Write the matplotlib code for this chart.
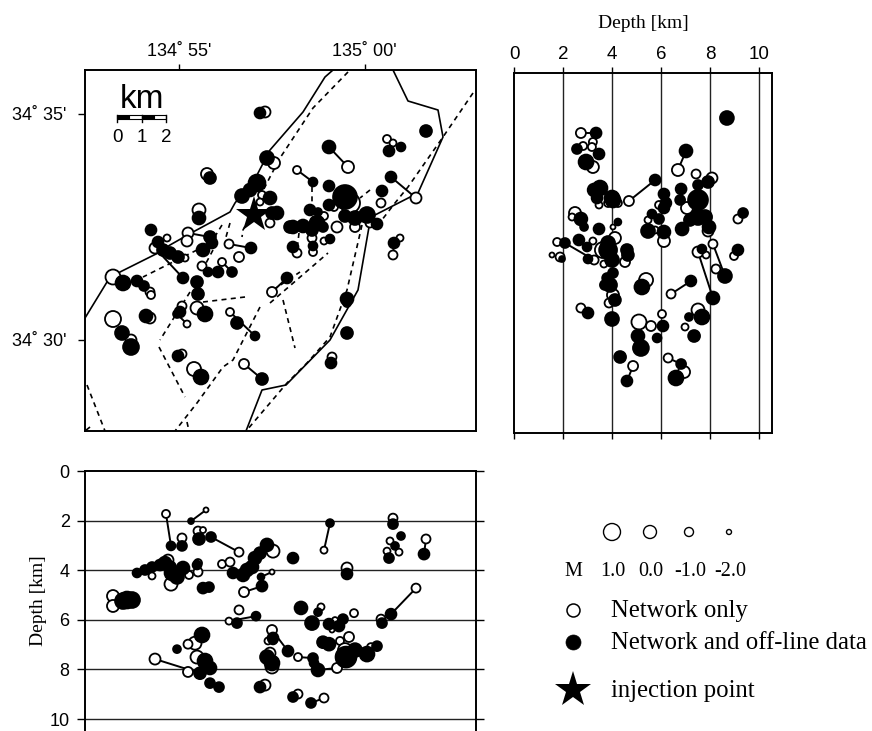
import numpy as np
import matplotlib
matplotlib.use('Agg')
import matplotlib.pyplot as plt

SANS = 'Liberation Sans'
SERIF = 'Liberation Serif'
plt.rcParams['axes.linewidth'] = 1.4

# Map view, km east / north of the lower left map corner.
# The first n_map_links entries of the open and filled lists are joined by a line.
n_map_links = 12
map_open_x = [10.52, 8.48, 13.24, 7.48, 6.36, 5.8, 5.48, 5.76, 4.12, 4.08, 2.8, 12.32,
              7.2, 7.56, 4.88, 4.56, 7.08, 7.0, 7.4, 3.28, 4.08, 6.16, 4.68, 4.0, 1.12, 2.6, 2.64,
              1.12, 1.84, 2.6, 3.88, 4.48, 3.88, 4.36, 12.08, 12.32, 10.6, 9.96, 11.84, 10.8, 11.4,
              10.08, 12.6, 9.56, 9.08, 9.56, 8.48, 9.12, 10.48, 9.88]
map_open_y = [10.56, 10.44, 9.32, 5.56, 2.68, 4.76, 6.76, 7.48, 7.92, 4.28, 7.32, 7.04,
              12.76, 10.72, 10.28, 8.84, 9.44, 9.16, 8.32, 7.72, 7.6, 6.96, 6.6, 6.92, 6.16, 5.56, 5.44,
              4.48, 3.64, 4.52, 5.0, 4.92, 3.08, 2.48, 11.68, 11.52, 9.12, 8.96, 9.12, 8.16, 8.32,
              8.16, 7.72, 8.6, 7.72, 7.6, 7.12, 7.16, 5.12, 2.96]
map_open_m = [-.25, -1.25, -.5, -.75, -.75, -1.25, -1.25, -1, -.5, -1.5, -.5, -1,
              -.5, -.25, -.25, 0, -1.25, -1.5, -1, -1.5, -.5, -.75, -1, -1.5, .5, -1, -1.25,
              .75, -.5, -.5, -1, 0, -1, .25, -1.25, -1.5, 1.75, -1.25, -1, -.75, -1,
              -.5, -1.5, -1.25, -1, -1.5, -1, -1.25, -1.25, -1]
map_fill_x = [9.76, 9.12, 12.24, 8.08, 7.08, 6.8, 5.88, 6.64, 5.0, 3.68, 3.92, 12.36,
              7.0, 7.28, 5.0, 6.28, 6.88, 7.4, 6.6, 7.68, 4.56, 2.64, 8.2, 8.32, 3.12, 3.4, 3.72,
              2.92, 4.48, 4.52, 4.92, 5.32, 4.72, 5.08, 1.52, 2.08, 2.36, 1.48, 1.84, 2.44, 3.8,
              4.8, 6.08, 3.72, 4.64, 13.64, 12.64, 12.16, 9.76, 10.4, 9.76, 11.88, 11.28, 10.8,
              10.4, 11.68, 9.0, 9.32, 8.32, 8.72, 9.28, 9.52, 9.08, 9.8, 9.12, 10.48, 10.48, 9.84, 7.48]
map_fill_y = [11.36, 9.96, 10.16, 6.12, 2.08, 3.8, 6.36, 7.32, 7.76, 4.68, 6.12, 7.52,
              12.72, 10.92, 10.12, 9.4, 9.92, 9.32, 9.64, 8.72, 8.52, 8.04, 8.16, 7.36, 7.24, 7.12, 6.96,
              7.56, 5.96, 5.48, 6.36, 6.36, 7.24, 7.52, 5.92, 6.0, 5.8, 3.92, 3.36, 4.6, 4.76,
              4.68, 4.32, 3.0, 2.16, 12.0, 11.36, 11.2, 9.8, 9.36, 9.04, 9.6, 8.64, 8.52,
              8.6, 8.28, 8.84, 8.76, 8.16, 8.2, 8.32, 8.16, 8.04, 7.68, 7.4, 5.28, 3.92, 2.72, 8.72]
map_fill_m = [0, -1, -.5, -.5, -.25, -1, -.75, -.5, -.25, -1.25, -.5, -.5,
              -.5, .25, -.25, .25, 1, 0, 0, 0, 0, -.5, -.25, -.5, -.25, -.25, -.25,
              -.5, -.25, -.25, -1, -.5, 0, -.5, .5, -.5, -.75, .25, .75, 0, -.5,
              .5, -.25, -.5, .5, -.25, -1, -.5, -.5, 2.75, -.5, -.5, .75, .25,
              -.25, -.5, -.5, -1.25, 0, 0, .5, -.75, -.25, -1, -1, 0, -.25, -.5, -.25]

# Faults on the map
solid_faults = [
    ([9.92, 9.6, 8.72, 7.4, 6.88, 6.0, 5.8, 4.32, 3.4, 2.92, 1.4, .88, 0],
     [14.44, 14.16, 12.76, 11.24, 10.24, 9.12, 8.76, 7.96, 7.44, 7.12, 6.36, 5.96, 4.52]),
    ([12.32, 12.92, 14.12, 14.32, 13.32, 11.6, 11.28, 11.36, 10.92, 9.8, 8.04, 7.08, 6.44],
     [14.44, 13.2, 12.84, 11.76, 9.52, 8.64, 8.56, 8.16, 5.64, 3.64, 1.84, 1.64, 0]),
]
dashed_faults = [
    ([10.52, 9.12, 7.8, 7.4, 6.32, 6.28], [14.36, 12.92, 10.92, 10.16, 8.04, 7.76]),
    ([5.8, 5.64], [8.32, 7.76]),
    ([5.48, 5.16], [8.24, 7.72]),
    ([6.4, 4.72], [5.36, 5.16]),
    ([4.2, 3.0], [5.56, 3.64]),
    ([2.96, 4.0], [3.36, 1.36]),
    ([7.0, 5.92, 5.52, 4.48, 3.6], [4.96, 2.84, 2.56, 1.12, 0]),
    ([4.08, 4.16], [.36, 0]),
    ([.08, .8], [1.84, 0]),
    ([.2, 0], [.16, 0]),
    ([4.48, 2.32], [7.24, 6.16]),
    ([7.4, 9.72], [5.12, 7.12]),
    ([7.52, 8.6], [5.64, 6.36]),
    ([7.92, 8.4], [5.24, 3.32]),
    ([15.52, 14.32, 12.92, 12.4, 11.72], [13.52, 11.76, 9.76, 9.12, 8.24]),
    ([11.4, 11.0], [9.64, 9.32]),
    ([11.08, 10.48, 9.8, 8.88, 8.08, 6.48], [8.24, 5.64, 3.76, 2.72, 1.92, .04]),
    ([9.08, 9.08], [9.76, 9.04]),
    ([8.56, 8.48], [7.92, 7.24]),
    ([5.12, 4.8], [7.24, 6.64]),
]
star_x, star_y = 6.76, 8.64

# Right panel: depth [km] against km north
n_right_links = 9
right_open_d = [6.69, 4.69, 2.73, 3.27, 7.51, 8.12, 6.41, 4.86, 6.29,
                3.22, 2.82, 3.18, 3.22, 7.43, 8.08, 3.47, 3.84, 4.24, 5.92, 7.06, 7.92, 9.14,
                2.49, 2.37, 4.04, 5.47, 5.76, 6.12, 4.12, 1.76, 1.55, 1.88, 3.22, 3.63, 4.53,
                3.67, 5.39, 7.84, 8.24, 8.98, 4.04, 3.88, 2.73, 5.1, 5.59, 6.04, 7.51, 6.98, 6.94]
right_open_y = [10.44, 9.2, 11.92, 6.84, 7.16, 7.48, 5.48, 2.6, 2.92,
                11.56, 11.4, 11.36, 10.56, 10.28, 10.12, 9.04, 9.12, 9.12, 9.04, 8.92, 8.0, 8.48,
                8.72, 8.56, 8.16, 8.44, 8.04, 7.6, 7.72, 7.56, 7.04, 6.96, 7.6, 7.24, 6.76,
                6.68, 6.04, 7.04, 6.48, 7.0, 5.44, 5.12, 4.92, 4.36, 4.2, 4.68, 4.84, 4.16, 2.36]
right_open_m = [-.25, -.75, -.75, -1, -.5, -1, -1, -.75, -1,
                -1.25, -1.25, -1.25, -.25, -1, -.5, -1.5, -1.25, -1.25, -1.25, -.25, -.5, -1,
                -.25, -1.5, -2, -1.5, -1.5, -.25, -.25, -1.25, -2, -1, -1.5, .75, -.75,
                -1.5, .25, -1.5, -1, -1.25, -.25, -1, -1, .5, -.75, -1.25, 0, -1.5, -.25]
right_fill_d = [7.02, 5.76, 3.35, 2.08, 8.12, 8.61, 7.22, 4.61, 6.82,
                8.69, 2.57, 3.47, 2.94, 7.51, 7.92, 3.51, 3.27, 3.39, 4.0, 4.04, 6.12, 6.2, 6.12,
                6.82, 6.78, 7.51, 7.51, 7.18, 7.8, 6.86, 7.96, 9.35, 2.73, 2.86, 4.24, 5.63, 5.92,
                5.47, 6.12, 3.47, 2.65, 1.96, 3.02, 2.98, 3.84, 3.84, 4.0, 4.61, 4.65, 4.04, 3.8,
                5.22, 7.67, 9.14, 3.92, 3.71, 4.12, 3.02, 4.0, 5.06, 5.18, 5.84, 6.08, 7.67, 7.14,
                7.35, 4.33, 6.61]
right_fill_y = [11.2, 10.04, 11.92, 7.52, 5.32, 6.2, 6.0, 2.0, 2.68,
                12.52, 11.28, 11.08, 10.76, 9.84, 9.96, 9.72, 9.64, 9.32, 9.32, 9.24, 9.48, 9.12, 8.92,
                9.68, 9.24, 9.24, 8.56, 8.44, 8.56, 8.08, 8.16, 8.72, 8.48, 8.16, 8.36, 8.68, 8.48,
                8.0, 7.96, 8.08, 7.64, 6.88, 6.88, 7.36, 7.52, 7.24, 6.84, 7.24, 7.04, 6.32, 6.12,
                5.76, 7.28, 7.24, 5.84, 5.84, 5.24, 4.72, 4.48, 3.8, 3.32, 3.72, 4.2, 4.56, 4.56,
                3.8, 2.96, 2.12]
right_fill_m = [0, -.5, -.5, -.75, 0, .25, -.5, -.5, -.75,
                .25, -.75, -.5, .5, -.75, -.25, .5, 0, -.5, .5, .5, -.5, -.5, -.5,
                -.5, -.75, 1.75, .75, -.25, .25, 0, 0, -.75, 0, -1.25, -1.5, -1, -.75,
                .25, 0, -.5, -.5, -1.75, -1, -1, .25, 1.25, .25, -.25, -.25, -.75, -.75,
                .5, -1, -.5, .25, -.75, -.25, -.5, .25, 0, .75, -1, -.5, .5, -1.25,
                -.25, -.25, .5]

# Bottom panel: km east against depth [km]
n_bottom_links = 14
bottom_open_x = [3.24, 4.84, 6.16, 6.36, 7.48, 2.8, 5.76, 9.56, 13.24, 13.64, 9.56, 7.48, 8.52, 10.08, 4.52,
                 3.88, 4.52, 4.72, 5.48, 5.8, 7.52, 3.32, 2.68, 3.44, 4.52, 4.16, 1.12, 1.12, 6.16, 4.4,
                 4.12, 4.12, 4.48, 7.32, 7.4, 7.48, 7.2, 12.32, 12.2, 12.08, 12.56, 10.48, 11.84, 9.44,
                 10.76, 10.0, 9.88, 10.56, 10.2, 10.4, 11.44, 8.52]
bottom_open_d = [1.73, 1.57, 3.27, 4.88, 4.07, 7.58, 6.05, 3.19, 4.72, 2.74, 9.15, 6.41, 7.5, 7.94, 4.07,
                 2.7, 2.42, 2.38, 3.75, 3.67, 3.23, 3.59, 4.23, 4.56, 3.71, 4.19, 5.04, 5.44, 5.6, 6.94,
                 6.98, 8.1, 7.5, 6.85, 7.34, 7.9, 8.63, 1.9, 2.82, 3.23, 3.27, 3.91, 5.97, 5.48,
                 5.73, 6.01, 6.41, 6.69, 6.85, 7.22, 7.1, 8.99]
bottom_open_m = [-1.25, -2, -1, -.75, -2, -.5, -1.5, -1.5, -1, -1, -1, -.75, -1.25, -.75, -1,
                 -1, -1, -1.75, -1.25, -1, 0, -.5, -1.5, 0, -1.25, -1.25, -.25, -.25, -1, 0,
                 -1, -.75, 0, -1.5, -.5, 0, -.5, -1, -1.5, -1.5, -1.5, -.5, -1, -1.5,
                 -1.25, -1.75, -2, -.75, -1.25, .25, -1.25, -1]
bottom_fill_x = [3.44, 4.24, 5.04, 7.08, 7.04, 4.6, 6.84, 9.8, 12.24, 13.56, 9.04, 8.12, 9.12, 9.32, 4.72,
                 4.56, 3.88, 5.92, 6.32, 6.68, 6.8, 7.0, 7.28, 6.48, 2.08, 2.4, 2.68, 3.0, 3.2, 3.48,
                 3.68, 3.92, 3.4, 4.48, 4.96, 1.52, 1.88, 1.68, 6.08, 4.68, 3.68, 4.8, 5.0, 5.0, 5.36,
                 7.52, 7.28, 7.48, 7.0, 8.32, 12.32, 12.64, 12.4, 12.16, 10.48, 11.88, 8.64, 9.32, 9.08,
                 10.32, 10.16, 9.76, 7.52, 9.16, 9.52, 9.76, 10.44, 10.8, 11.28, 11.68, 8.32]
bottom_fill_d = [3.02, 2.02, 2.66, 4.64, 4.27, 8.15, 5.85, 2.1, 5.77, 3.35, 9.35, 7.26, 7.54, 8.02, 4.72,
                 2.74, 3.02, 4.11, 4.19, 3.87, 3.51, 3.31, 2.98, 3.99, 4.11, 3.99, 3.87, 3.79, 3.71, 4.11,
                 4.27, 3.91, 3.87, 3.79, 4.68, 5.24, 5.2, 5.2, 6.13, 6.61, 7.18, 7.66, 7.94, 8.55, 8.71,
                 6.81, 7.5, 7.74, 8.71, 3.51, 2.14, 2.62, 3.02, 3.51, 4.15, 6.13, 5.52, 5.69, 6.13,
                 5.97, 6.25, 6.17, 6.73, 7.74, 6.9, 6.98, 7.5, 7.22, 7.38, 7.06, 9.11]
bottom_fill_m = [-1, -1.75, -.75, -.5, -1.5, -.25, -1, -1.25, -.5, -.5, -.75, -.5, -.75, 0, -.5,
                 -.25, -.75, -.5, 0, 0, 0, -.25, 0, 0, -1, -.75, -.75, -.5, 0, .5,
                 .25, 0, -.25, -1, -.75, .75, .75, 1, -.75, .5, -1.25, .5, 0, -.75, -.75,
                 -1, .25, .5, -.5, -.5, -.75, -1.25, -1.25, -.75, -.5, -.75, 0, -1.25, .25,
                 -.75, -.5, -.5, -.5, -1, -.25, 0, 2, .25, .5, -.75, -.75]

depth_ticks = [0, 2, 4, 6, 8, 10]
legend_mags = [1.0, 0.0, -1.0, -2.0]
legend_labels = ['1.0', '0.0', '-1.0', '-2.0']

W, H = 872, 731


def px_axes(left, top, right, bottom):
    return fig.add_axes([left / W, 1 - bottom / H, (right - left) / W, (bottom - top) / H])


def mag_size(m):
    # circle diameter in pixels grows by 4 per magnitude unit, scatter wants pt^2
    return (np.maximum(13 + 4 * np.asarray(m, dtype=float), 3) * 0.72) ** 2


def draw_events(ax, ox, oy, om, fx, fy, fm, n_links):
    for i in range(n_links):
        ax.plot([ox[i], fx[i]], [oy[i], fy[i]], color='k', lw=1.4, zorder=2, solid_capstyle='round')
    ax.scatter(ox, oy, s=mag_size(om), facecolor='w', edgecolor='k', linewidth=1.3, zorder=3)
    ax.scatter(fx, fy, s=mag_size(fm), facecolor='k', edgecolor='k', linewidth=1.2, zorder=4)


fig = plt.figure(figsize=(W / 100, H / 100), dpi=100)

# map
ax = px_axes(85, 70, 476, 431)
ax.set_xlim(0, 15.64)
ax.set_ylim(0, 14.44)
for x, y in solid_faults:
    ax.plot(x, y, color='k', lw=1.2, zorder=1)
for x, y in dashed_faults:
    ax.plot(x, y, color='k', lw=1.2, ls=(0, (3, 2.6)), zorder=1)
draw_events(ax, map_open_x, map_open_y, map_open_m, map_fill_x, map_fill_y, map_fill_m, n_map_links)
ax.plot(star_x, star_y, marker='*', color='k', ms=27, mew=0, zorder=5)
ax.set_xticks([3.76, 11.19])
ax.set_xticklabels(["134˚ 55'", "135˚ 00'"], family=SANS, fontsize=13)
ax.set_yticks([3.64, 12.68])
ax.set_yticklabels(["34˚ 30'", "34˚ 35'"], family=SANS, fontsize=13)
ax.xaxis.tick_top()
ax.tick_params(axis='x', length=4.5, width=1, pad=3)
ax.tick_params(axis='y', length=5, width=1, pad=8.5)

# scale bar
bar_km = [0, 0.5, 1, 1.5, 2]
bar_x = [1.28 + 0.98 * k for k in bar_km]
for i in range(4):
    ax.fill_between(bar_x[i:i + 2], 12.5, 12.64, facecolor='k' if i % 2 == 0 else 'w',
                    edgecolor='k', lw=0.8, zorder=6)
for k in [0, 2, 4]:
    ax.plot([bar_x[k]] * 2, [12.36, 12.64], color='k', lw=1, zorder=6)
    ax.text(bar_x[k], 12.08, str(k // 2), family=SANS, fontsize=13.5, ha='center', va='top')
ax.text(bar_x[2], 12.9, 'km', family=SANS, fontsize=24, ha='center', va='baseline')

# depth against north
ax = px_axes(514, 73, 772, 433)
ax.set_xlim(0, 10.53)
ax.set_ylim(-0.08, 14.32)
ax.vlines(depth_ticks[1:], -0.08, 14.32, color='#222222', lw=1, zorder=1)
draw_events(ax, right_open_d, right_open_y, right_open_m, right_fill_d, right_fill_y, right_fill_m,
            n_right_links)
ax.set_yticks([])
ax.set_xticks(depth_ticks)
ax.set_xticklabels([str(d) for d in depth_ticks], family=SANS, fontsize=13.5)
ax.tick_params(axis='x', top=True, bottom=True, labeltop=True, labelbottom=False,
               length=4.5, width=1, pad=2.6)

# east against depth
ax = px_axes(85, 471, 476, 731)
ax.set_xlim(0, 15.64)
ax.set_ylim(10.48, 0)
ax.hlines(depth_ticks[1:], 0, 15.64, color='#222222', lw=1, zorder=1)
draw_events(ax, bottom_open_x, bottom_open_d, bottom_open_m, bottom_fill_x, bottom_fill_d, bottom_fill_m,
            n_bottom_links)
ax.set_xticks([])
ax.set_yticks(depth_ticks)
ax.set_yticklabels([str(d) for d in depth_ticks], family=SANS, fontsize=13)
ax.tick_params(axis='y', left=True, right=True, length=5.5, width=1, pad=5.5)
ax.spines['bottom'].set_visible(False)
ax.set_ylabel('Depth [km]', family=SERIF, fontsize=14, labelpad=2)

# legend and top label, drawn on an overlay in pixel coordinates
leg = fig.add_axes([0, 0, 1, 1], facecolor='none')
leg.set_xlim(0, W)
leg.set_ylim(H, 0)
leg.axis('off')
leg.text(643, 23, 'Depth [km]', family=SERIF, fontsize=14, ha='center', va='center')
leg_x = [612, 650, 689, 729]
leg.scatter(leg_x, [532] * 4, s=mag_size(legend_mags), facecolor='w', edgecolor='k', linewidth=1.0)
leg.text(573, 572, 'M', family=SERIF, fontsize=14.5, ha='center', va='center')
for x, s in zip(leg_x, legend_labels):
    leg.text(x + 1, 572, s, family=SERIF, fontsize=14.5, ha='center', va='center')
leg.scatter([573], [610], s=mag_size([0]), facecolor='w', edgecolor='k', linewidth=1.1)
leg.scatter([573], [642], s=mag_size([0.5]), facecolor='k', edgecolor='k', linewidth=0.5)
leg.plot(573, 690, marker='*', color='k', ms=27, mew=0)
leg.text(611, 611, 'Network only', family=SERIF, fontsize=17.8, va='center')
leg.text(611, 643, 'Network and off-line data', family=SERIF, fontsize=17.8, va='center')
leg.text(611, 691, 'injection point', family=SERIF, fontsize=17.8, va='center')

plt.savefig('out.png', dpi=100)
